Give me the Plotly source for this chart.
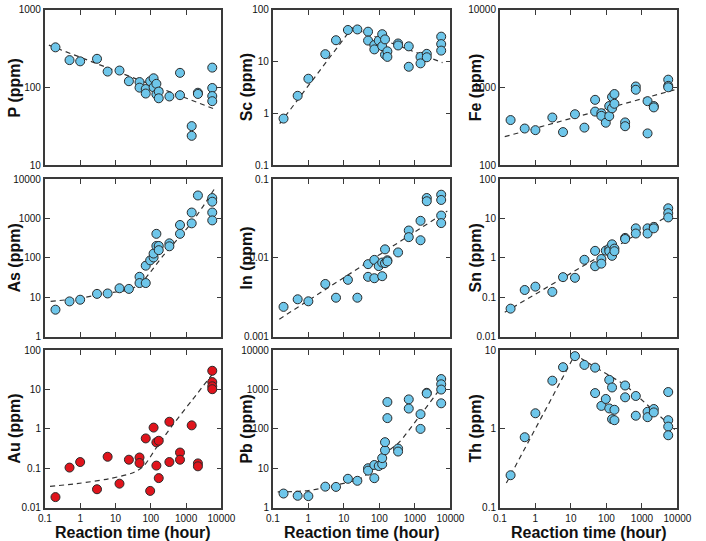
import plotly.graph_objects as go
import math

# ---------------- data ----------------
t_P = [0.2,0.5,1,3,6,13,24,48,48,72,72,96,120,120,144,144,168,168,336,672,672,1440,1440,2160,2160,5500,5500,5500,5500]
v_P = [330,226,218,235,161,166,121,118,100,96,84,121,132,101,112,82,89,73,77,155,80,32,24,86,83,181,99,78,67]
fit_P_t = [0.13, 7080]
fit_P_v = [352, 52]

t_Sc = [0.2,0.5,1,3,6,13,24,48,48,72,72,96,120,120,144,144,168,168,336,336,672,672,1440,1440,2160,2160,5500,5500,5500]
v_Sc = [0.8,2.2,4.7,14,26,41,42,38,25.6,21,17.3,25.6,34,20,27,13.7,15.9,12.4,22.5,20.6,19.8,8.0,12.4,9.3,14.2,12.2,30.5,21.9,16.4]
fit_Sc_t = [0.156, 17, 6000]
fit_Sc_v = [0.64, 45, 9.6]

t_Fe = [0.2,0.5,1,3,6,13,24,48,48,72,72,96,120,120,144,144,168,168,336,336,672,672,1440,1440,2160,2160,5500,5500,5500]
v_Fe = [383,298,284,413,268,455,306,697,492,469,434,354,580,430,760,542,828,620,357,319,1035,940,670,258,580,557,1267,1055,1010]
fit_Fe_t = [0.137, 8460]
fit_Fe_v = [234, 940]

t_As = [0.2,0.5,1,3,6,13,24,48,48,72,72,96,120,120,144,144,168,168,336,336,672,672,1440,1440,2160,5500,5500,5500,5500]
v_As = [4.8,7.8,8.6,12.1,12.4,16.8,16.2,32.9,22.8,63,22.8,86,102,128,406,200,200,156,233,196,681,406,1413,750,3830,3290,2660,1413,891]
fit_As_t = [0.146,0.81,6.6,25.5,53,100,230,536,1230,2850,6330]
fit_As_v = [7.8,9.2,12.8,15.6,22.8,44.7,117,277,656,1880,5620]

t_In = [0.2,0.5,1,3,6,13,24,48,48,72,72,96,120,120,144,144,168,168,336,672,672,1440,1440,2160,2160,5500,5500,5500,5500]
v_In = [0.00238,0.00297,0.0028,0.00465,0.00311,0.00525,0.00311,0.0083,0.00573,0.0094,0.0055,0.00784,0.0087,0.00584,0.0128,0.00855,0.0093,0.0090,0.0117,0.0222,0.0183,0.0295,0.0167,0.0575,0.0523,0.0633,0.0543,0.0344,0.0276]
fit_In_t = [0.152, 8190]
fit_In_v = [0.00166, 0.0393]

t_Sn = [0.2,0.5,1,3,6,13,24,48,48,72,72,96,120,120,144,144,168,168,336,336,672,672,1440,1440,2160,2160,5500,5500,5500]
v_Sn = [0.051,0.152,0.185,0.136,0.322,0.31,0.89,1.5,0.61,0.93,0.71,1.52,1.71,1.47,2.2,1.12,1.71,1.47,3.2,3.0,5.6,4.14,5.6,4.14,6.1,5.6,18.1,13.6,10.6]
fit_Sn_t = [0.137, 8200]
fit_Sn_v = [0.0414, 14.4]

t_Au = [0.2,0.5,1,3,6,13,24,48,48,72,96,120,144,144,168,168,336,336,672,672,1440,2160,2160,5500,5500,5500,5500]
v_Au = [0.0185,0.104,0.144,0.0293,0.196,0.0406,0.165,0.188,0.136,0.573,0.0266,1.08,0.455,0.117,0.50,0.0562,1.52,0.144,0.251,0.165,1.23,0.133,0.112,30,15.5,12.1,10.2]
fit_Au_t = [0.14,0.79,6.4,34,64.5,134,424,1480,6170]
fit_Au_v = [0.0348,0.0406,0.054,0.079,0.117,0.304,1.28,5.4,27.7]

t_Pb = [0.2,0.5,1,3,6,13,24,48,48,72,72,96,120,120,144,144,168,168,336,336,672,672,1440,1440,2160,2160,5500,5500,5500,5500]
v_Pb = [2.28,2.0,1.96,3.41,3.36,5.4,4.8,10,8.7,12.1,5.6,11.4,12.6,18.1,28.7,46,482,188,31.6,26.6,562,329,237,100,826,794,1850,1360,1000,447]
fit_Pb_t = [0.137,1,5.3,28.5,66,137,351,1230,4800]
fit_Pb_v = [2.5,2.71,3.69,5.4,9.6,22.8,44.7,188,962]

t_Th = [0.2,0.5,1,3,6,13,24,48,48,72,96,120,120,144,144,168,168,336,336,672,672,1440,1440,2160,2160,5500,5500,5500,5500]
v_Th = [0.258,0.784,1.58,4.1,6.08,8.4,6.5,6.0,2.85,1.96,2.4,4.2,1.82,3.36,1.33,1.75,1.29,3.56,2.52,2.62,1.47,1.65,1.41,1.79,1.62,2.94,1.29,1.07,0.83]
fit_Th_t = [0.152,13,48,345,1450,8400]
fit_Th_v = [0.205,8.8,6.1,3.6,2.0,0.98]

x_ticks = [0.1, 1, 10, 100, 1000, 10000]
x_ticktext = ["0.1", "1", "10", "100", "1000", "10000"]

panels = [
    ("P (ppm)",  t_P,  v_P,  fit_P_t,  fit_P_v,  [10, 100, 1000], ["10", "100", "1000"], "blue", "linear"),
    ("Sc (ppm)", t_Sc, v_Sc, fit_Sc_t, fit_Sc_v, [0.1, 1, 10, 100], ["0.1", "1", "10", "100"], "blue", "linear"),
    ("Fe (ppm)", t_Fe, v_Fe, fit_Fe_t, fit_Fe_v, [100, 1000, 10000], ["100", "1000", "10000"], "blue", "linear"),
    ("As (ppm)", t_As, v_As, fit_As_t, fit_As_v, [1, 10, 100, 1000, 10000], ["1", "10", "100", "1000", "10000"], "blue", "spline"),
    ("In (ppm)", t_In, v_In, fit_In_t, fit_In_v, [0.001, 0.01, 0.1], ["0.001", "0.01", "0.1"], "blue", "linear"),
    ("Sn (ppm)", t_Sn, v_Sn, fit_Sn_t, fit_Sn_v, [0.01, 0.1, 1, 10, 100], ["0.01", "0.1", "1", "10", "100"], "blue", "linear"),
    ("Au (ppm)", t_Au, v_Au, fit_Au_t, fit_Au_v, [0.01, 0.1, 1, 10, 100], ["0.01", "0.1", "1", "10", "100"], "red", "spline"),
    ("Pb (ppm)", t_Pb, v_Pb, fit_Pb_t, fit_Pb_v, [1, 10, 100, 1000, 10000], ["1", "10", "100", "1000", "10000"], "blue", "spline"),
    ("Th (ppm)", t_Th, v_Th, fit_Th_t, fit_Th_v, [0.1, 1, 10], ["0.1", "1", "10"], "blue", "linear"),
]

# ---------------- layout geometry (pixels) ----------------
W, H = 706, 541
cols = [(39, 221), (274, 457), (508, 691)]
rows = [(4, 163), (177, 338), (352, 513)]
title_x = [8, 247, 483]

BLUE = "#6ec6ea"
RED = "#e0141c"
EDGE = "#2a2a2a"
AXC = "#3a3a3a"
FONT = "Liberation Sans, Arial, sans-serif"

fig = go.Figure()
annotations = []

for i, (name, t, v, ft, fv, yt, ytt, colr, shape) in enumerate(panels):
    r, c = divmod(i, 3)
    k = "" if i == 0 else str(i + 1)
    xa, ya = "x" + k, "y" + k
    fig.add_trace(go.Scatter(
        x=ft, y=fv, xaxis=xa, yaxis=ya, mode="lines",
        line=dict(color="#333333", width=1.2, dash="5px,4px", shape=shape, smoothing=0.8),
        hoverinfo="skip", showlegend=False))
    fig.add_trace(go.Scatter(
        x=t, y=v, xaxis=xa, yaxis=ya, mode="markers",
        marker=dict(size=9, color=BLUE if colr == "blue" else RED,
                    line=dict(color=EDGE, width=1)),
        showlegend=False))
    x0, x1 = cols[c]
    y0, y1 = rows[r]
    common = dict(type="log", showgrid=False, zeroline=False, showline=True,
                  linecolor=AXC, linewidth=1.8, mirror="ticks", ticks="inside",
                  ticklen=5, tickwidth=1.4, tickcolor=AXC,
                  tickfont=dict(family=FONT, size=10, color="#111111"))
    fig.layout["xaxis" + k] = dict(
        common, domain=[x0 / W, x1 / W], anchor=ya, range=[-1, 4],
        tickvals=x_ticks, ticktext=x_ticktext, showticklabels=(r == 2))
    fig.layout["yaxis" + k] = dict(
        common, domain=[1 - y1 / H, 1 - y0 / H], anchor=xa,
        range=[math.log10(yt[0]), math.log10(yt[-1])],
        tickvals=yt, ticktext=ytt)
    annotations.append(dict(
        text="<b>%s</b>" % name, xref="paper", yref="paper",
        x=title_x[c] / W, y=1 - ((y0 + y1) / 2) / H, textangle=-90,
        showarrow=False, xanchor="center", yanchor="middle",
        font=dict(family=FONT, size=16, color="#111111")))
    if r == 2:
        annotations.append(dict(
            text="<b>Reaction time (hour)</b>", xref="paper", yref="paper",
            x=((x0 + x1) / 2) / W, y=1 - 538 / H, showarrow=False,
            xanchor="center", yanchor="middle",
            font=dict(family=FONT, size=16, color="#111111")))

fig.update_layout(
    width=W, height=H, margin=dict(l=0, r=0, t=0, b=0),
    paper_bgcolor="white", plot_bgcolor="white",
    annotations=annotations, showlegend=False)

fig.write_html("out.html")
